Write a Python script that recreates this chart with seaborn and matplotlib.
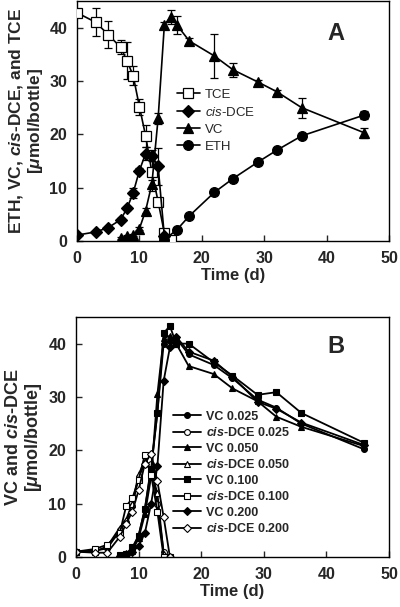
import matplotlib
matplotlib.use('Agg')
import matplotlib.pyplot as plt
import seaborn as sns
import numpy as np
import pandas as pd

# ---------------- data: panel A ----------------
tce_days = [0, 3, 5, 7, 8, 9, 10, 11, 12, 13, 14, 15]
tce_vals = [42.8, 41.0, 38.7, 36.3, 33.8, 31.0, 25.2, 19.7, 12.9, 7.4, 1.5, 0.25]
tce_err = [0.5, 2.6, 2.5, 1.3, 3.5, 1.8, 1.5, 2.0, 3.5, 0.5, 0.3, 0.2]

dce_days = [0, 3, 5, 7, 8, 9, 10, 11, 12, 13, 14]
dce_vals = [1.1, 1.7, 2.5, 4.0, 6.1, 9.0, 13.2, 16.4, 16.0, 14.0, 0.9]
dce_err = [0.2, 0.2, 0.2, 0.3, 0.3, 1.0, 0.5, 1.3, 1.0, 3.5, 0.3]

vc_days = [7, 8, 9, 10, 11, 12, 13, 14, 15, 16, 18, 22, 25, 29, 32, 36, 46]
vc_vals = [0.6, 0.9, 1.2, 2.3, 5.7, 10.7, 23.0, 40.5, 42.0, 40.5, 37.5, 34.7, 32.1, 29.8, 28.0, 25.0, 20.3]
vc_err = [0.2, 0.2, 0.2, 0.3, 0.5, 0.8, 1.0, 0.5, 1.3, 1.7, 0.5, 4.2, 1.3, 0.4, 0.4, 1.9, 0.9]

eth_days = [14, 16, 18, 22, 25, 29, 32, 36, 46]
eth_vals = [0.25, 2.1, 4.7, 9.1, 11.7, 14.8, 17.0, 19.7, 23.6]
eth_err = [0.2, 0.3, 0.3, 0.3, 0.4, 0.6, 0.4, 0.4, 0.8]

# ---------------- data: panel B ----------------
b_vc_days = [7, 8, 9, 10, 11, 12, 13, 14, 15, 16, 18, 22, 25, 29, 32, 36, 46]
vc_025 = [0.2, 0.5, 1.5, 4.0, 9.0, 17.0, 27.0, 40.0, 40.5, 41.0, 38.0, 36.0, 33.5, 29.5, 28.0, 25.0, 20.2]
vc_050 = [0.3, 0.8, 1.2, 3.5, 8.0, 15.0, 30.5, 41.0, 41.5, 40.0, 35.8, 34.3, 31.6, 29.2, 26.3, 24.4, 20.8]
vc_100 = [0.3, 0.6, 1.8, 4.0, 9.0, 16.5, 27.0, 42.0, 43.3, 40.0, 40.0, 36.5, 34.0, 30.4, 30.9, 27.0, 21.4]
vc_200 = [0.2, 0.3, 1.0, 2.0, 4.5, 10.0, 17.0, 33.0, 39.3, 41.3, 38.5, 36.8, 33.8, 29.1, 27.8, 25.2, 21.0]

b_dce_days = [0, 3, 5, 7, 8, 9, 10, 11, 12, 13, 14, 15]
dce_025 = [1.0, 1.2, 1.6, 5.0, 6.5, 9.5, 15.0, 17.5, 17.5, 10.0, 1.0, 0.0]
dce_050 = [1.0, 1.0, 2.0, 5.5, 7.0, 10.0, 15.5, 18.0, 16.0, 12.0, 0.5, 0.0]
dce_100 = [1.0, 1.5, 2.3, 4.5, 9.5, 11.0, 14.5, 19.2, 15.4, 8.5, 0.0, 0.0]
dce_200 = [1.0, 0.8, 0.8, 3.8, 6.2, 8.5, 12.5, 17.5, 19.4, 14.2, 7.5, 0.0]

x_ticks = [0, 10, 20, 30, 40, 50]
y_ticks = [0, 10, 20, 30, 40]

# ---------------- style ----------------
sns.set_style('ticks')
plt.rcParams['font.family'] = ['Liberation Sans', 'DejaVu Sans']
plt.rcParams['mathtext.fontset'] = 'custom'
plt.rcParams['mathtext.it'] = 'Liberation Sans:italic'
plt.rcParams['mathtext.bf'] = 'Liberation Sans:bold:italic'
plt.rcParams['mathtext.rm'] = 'Liberation Sans'

fig = plt.figure(figsize=(4.0, 6.07), dpi=100)
axA = fig.add_axes([0.1925, 0.603, 0.78, 0.3954])
axB = fig.add_axes([0.19, 0.0824, 0.7825, 0.3954])


def style_axes(ax):
    ax.set_xlim(0, 50)
    ax.set_ylim(0, 45)
    ax.set_xticks(x_ticks)
    ax.set_yticks(y_ticks)
    ax.tick_params(direction='in', length=4, width=1, labelsize=11.5,
                   top=False, right=False, pad=7)
    for lab in ax.get_xticklabels() + ax.get_yticklabels():
        lab.set_fontweight('bold')
    for sp in ax.spines.values():
        sp.set_visible(True)
        sp.set_linewidth(1.0)
        sp.set_color('black')
    ax.set_xlabel('Time (d)', fontsize=12, fontweight='bold', labelpad=2)


# ---------------- panel A ----------------
seriesA = [
    (tce_days, tce_vals, tce_err, 's', 'white', 'TCE', 6.5),
    (dce_days, dce_vals, dce_err, 'D', 'black', r'$\mathit{cis}$-DCE', 6.0),
    (vc_days, vc_vals, vc_err, '^', 'black', 'VC', 7.0),
    (eth_days, eth_vals, eth_err, 'o', 'black', 'ETH', 7.0),
]
for d, v, e, m, fc, lab, ms in seriesA:
    axA.errorbar(d, v, yerr=e, fmt='none', ecolor='black', elinewidth=0.9,
                 capsize=3, capthick=0.9, zorder=2)
for d, v, e, m, fc, lab, ms in seriesA:
    sns.lineplot(x=d, y=v, ax=axA, color='black', linewidth=1.2, marker=m,
                 markersize=ms, markerfacecolor=fc, markeredgecolor='black',
                 markeredgewidth=0.9, label=lab, zorder=3)
style_axes(axA)
axA.set_ylabel('ETH, VC, $\\mathbf{cis}$-DCE, and TCE\n[$\\mathbf{μ}$mol/bottle]',
               fontsize=12.5, fontweight='bold', labelpad=3, linespacing=1.1)
axA.legend(loc='upper left', bbox_to_anchor=(0.32, 0.635), frameon=False,
           fontsize=9.5, handlelength=1.75, handletextpad=0.38,
           labelspacing=0.36, borderaxespad=0, borderpad=0)
axA.text(0.83, 0.865, 'A', transform=axA.transAxes, fontsize=17,
         fontweight='bold', ha='center', va='center')

# ---------------- panel B ----------------
seriesB = [
    (b_vc_days, vc_025, 'o', 'black', 'VC 0.025'),
    (b_dce_days, dce_025, 'o', 'white', r'$\mathbf{cis}$-DCE 0.025'),
    (b_vc_days, vc_050, '^', 'black', 'VC 0.050'),
    (b_dce_days, dce_050, '^', 'white', r'$\mathbf{cis}$-DCE 0.050'),
    (b_vc_days, vc_100, 's', 'black', 'VC 0.100'),
    (b_dce_days, dce_100, 's', 'white', r'$\mathbf{cis}$-DCE 0.100'),
    (b_vc_days, vc_200, 'D', 'black', 'VC 0.200'),
    (b_dce_days, dce_200, 'D', 'white', r'$\mathbf{cis}$-DCE 0.200'),
]
for d, v, m, fc, lab in seriesB:
    sns.lineplot(x=d, y=v, ax=axB, color='black', linewidth=1.3, marker=m,
                 markersize=4.2, markerfacecolor=fc, markeredgecolor='black',
                 markeredgewidth=0.8, label=lab)
style_axes(axB)
axB.set_ylabel('VC and $\\mathbf{cis}$-DCE\n[$\\mathbf{μ}$mol/bottle]',
               fontsize=13, fontweight='bold', labelpad=3, linespacing=1.1)
legB = axB.legend(loc='upper left', bbox_to_anchor=(0.31, 0.61), frameon=False,
                  fontsize=9, handlelength=2.25, handletextpad=0.4,
                  labelspacing=0.28, borderaxespad=0, borderpad=0)
for t in legB.get_texts():
    t.set_fontweight('bold')
axB.text(0.83, 0.875, 'B', transform=axB.transAxes, fontsize=17,
         fontweight='bold', ha='center', va='center')

fig.savefig('out.png', dpi=100)
